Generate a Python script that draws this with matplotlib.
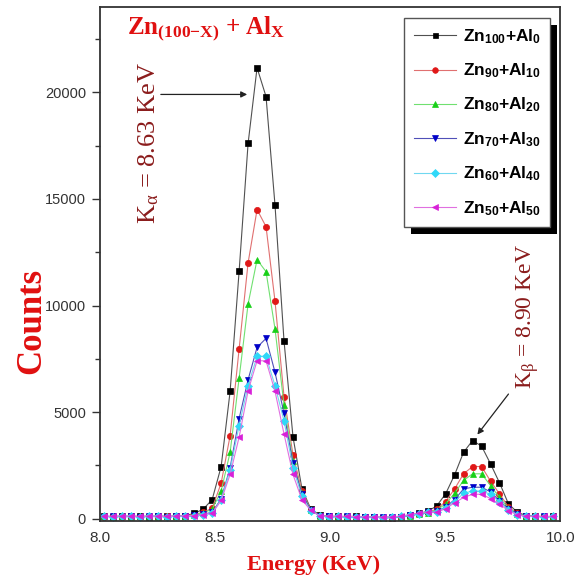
import numpy as np
import matplotlib
matplotlib.use("Agg")
import matplotlib.pyplot as plt
from matplotlib.patches import Rectangle
from matplotlib.ticker import MultipleLocator
from matplotlib.transforms import IdentityTransform

plt.rcParams["font.family"] = ["Liberation Sans", "DejaVu Sans"]
plt.rcParams["mathtext.fontset"] = "custom"
plt.rcParams["mathtext.rm"] = "Liberation Serif"
plt.rcParams["mathtext.it"] = "Liberation Serif:italic"
plt.rcParams["mathtext.bf"] = "Liberation Serif:bold"
plt.rcParams["mathtext.sf"] = "Liberation Sans:bold"

# energy channels (KeV)
energy = [8.020, 8.059, 8.098, 8.137, 8.176, 8.215, 8.254, 8.293, 8.332, 8.371,
          8.410, 8.449, 8.488, 8.527, 8.566, 8.605, 8.644, 8.683, 8.722, 8.761,
          8.800, 8.839, 8.878, 8.917, 8.956, 8.995, 9.034, 9.073, 9.112, 9.151,
          9.190, 9.229, 9.268, 9.307, 9.346, 9.385, 9.424, 9.463, 9.502, 9.541,
          9.580, 9.619, 9.658, 9.697, 9.736, 9.775, 9.814, 9.853, 9.892, 9.931,
          9.970]

zn100 = [120, 100, 130, 110, 120, 100, 130, 110, 120, 150,
         250, 450, 900, 2450, 5980, 11600, 17600, 21150, 19800, 14700,
         8350, 3850, 1400, 450, 180, 120, 110, 100, 120, 90,
         80, 60, 50, 100, 180, 250, 350, 600, 1170, 2060,
         3120, 3670, 3410, 2580, 1690, 700, 300, 150, 120, 100,
         110]
zn90 = [100, 110, 90, 120, 100, 110, 100, 120, 110, 130,
        200, 300, 500, 1670, 3900, 7960, 12000, 14500, 13700, 10200,
        5730, 3000, 1300, 400, 150, 100, 100, 90, 100, 80,
        70, 60, 60, 90, 160, 220, 300, 450, 810, 1400,
        2110, 2450, 2450, 1770, 1170, 550, 250, 130, 110, 100,
        100]
zn80 = [110, 100, 120, 100, 110, 120, 100, 110, 120, 120,
        180, 280, 450, 1300, 3120, 6590, 10070, 12150, 11590, 8900,
        5350, 2700, 1200, 400, 150, 110, 100, 100, 90, 80,
        70, 60, 80, 90, 150, 220, 290, 400, 700, 1200,
        1800, 2110, 2110, 1560, 1000, 500, 230, 130, 110, 100,
        100]
zn70 = [100, 120, 100, 110, 100, 120, 110, 100, 120, 110,
        160, 220, 300, 940, 2400, 4700, 6520, 8040, 8460, 6870,
        4950, 2610, 1170, 400, 150, 110, 100, 110, 90, 80,
        70, 70, 80, 100, 160, 230, 300, 350, 550, 900,
        1400, 1480, 1480, 1260, 850, 450, 220, 130, 100, 110,
        100]
zn60 = [110, 100, 120, 110, 100, 110, 120, 100, 110, 120,
        150, 200, 260, 900, 2300, 4370, 6240, 7620, 7620, 6240,
        4600, 2400, 1050, 350, 150, 100, 110, 100, 90, 70,
        80, 60, 90, 110, 170, 240, 310, 330, 500, 800,
        1200, 1300, 1300, 1150, 800, 420, 200, 120, 110, 100,
        110]
zn50 = [120, 110, 130, 120, 110, 130, 120, 110, 130, 140,
        150, 190, 250, 860, 2080, 3830, 6000, 7410, 7410, 5980,
        3980, 2080, 890, 390, 130, 120, 110, 120, 100, 90,
        80, 70, 90, 120, 200, 260, 300, 300, 480, 750,
        1000, 1150, 1150, 950, 700, 380, 180, 120, 110, 120,
        110]

labels = [r"Zn$_{\mathsf{100}}$+Al$_{\mathsf{0}}$",
          r"Zn$_{\mathsf{90}}$+Al$_{\mathsf{10}}$",
          r"Zn$_{\mathsf{80}}$+Al$_{\mathsf{20}}$",
          r"Zn$_{\mathsf{70}}$+Al$_{\mathsf{30}}$",
          r"Zn$_{\mathsf{60}}$+Al$_{\mathsf{40}}$",
          r"Zn$_{\mathsf{50}}$+Al$_{\mathsf{50}}$"]

series = [zn100, zn90, zn80, zn70, zn60, zn50]
markers = ["s", "o", "^", "v", "D", "<"]
mcolors = ["#000000", "#e01818", "#18d018", "#0000c8", "#30d8f8", "#d820d8"]
lcolors = ["#505050", "#e07070", "#70e070", "#5050b8", "#70d8f0", "#e070e0"]
msizes = [4, 4.5, 5, 5, 4, 5]

fig = plt.figure(figsize=(5.77, 5.84), dpi=100)
ax = fig.add_axes([0.173, 0.108, 0.798, 0.880])

for vals, mk, mc, lc, ms, lab in zip(series, markers, mcolors, lcolors, msizes, labels):
    ax.plot(energy, vals, color=lc, lw=0.8, marker=mk, markersize=ms,
            markerfacecolor=mc, markeredgecolor=mc, markeredgewidth=0.5, label=lab)

ax.set_xlim(8.0, 10.0)
ax.set_ylim(-100, 24000)
ax.set_xticks([8.0, 8.5, 9.0, 9.5, 10.0])
ax.set_xticklabels(["8.0", "8.5", "9.0", "9.5", "10.0"])
ax.set_yticks([0, 5000, 10000, 15000, 20000])
ax.yaxis.set_minor_locator(MultipleLocator(2500))
ax.tick_params(axis="y", which="major", direction="out", length=6, width=1,
               labelsize=10.5, labelcolor="#333333", colors="#333333", pad=4)
ax.tick_params(axis="y", which="minor", direction="out", length=3.5, width=1, colors="#333333")
ax.tick_params(axis="x", which="both", length=0, labelsize=11, labelcolor="#333333", pad=7)
for sp in ax.spines.values():
    sp.set_linewidth(1.3)
    sp.set_color("#333333")

ax.set_xlabel("Energy (KeV)", family="Liberation Serif", fontweight="bold",
              fontsize=16, color="#e01010")
ax.xaxis.set_label_coords(0.465, -0.066)
ax.set_ylabel("Counts", family="Liberation Serif", fontweight="bold",
              fontsize=25, color="#e01010")
ax.yaxis.set_label_coords(-0.112, 0.39)

ax.text(8.12, 23000, r"Zn$_{\mathbf{(100{-}X)}}$ + Al$_{\mathbf{X}}$",
        family="Liberation Serif", fontweight="bold", fontsize=18,
        color="#e01010", va="center", ha="left")

dark_red = "#8b1c1c"
ax.text(8.213, 17600, r"K$_{\mathrm{\alpha}}$ = 8.63 KeV", rotation=90,
        family="Liberation Serif", fontsize=19, color=dark_red,
        ha="center", va="center")
ax.annotate("", xy=(8.64, 19900), xytext=(8.265, 19900),
            arrowprops=dict(arrowstyle="-|>", color="#222222", lw=0.9,
                            mutation_scale=9, shrinkA=0, shrinkB=0))
ax.text(9.86, 9500, r"K$_{\mathrm{\beta}}$ = 8.90 KeV", rotation=90,
        family="Liberation Serif", fontsize=17, color=dark_red,
        ha="center", va="center")
ax.annotate("", xy=(9.64, 3950), xytext=(9.775, 5850),
            arrowprops=dict(arrowstyle="-|>", color="#222222", lw=0.9,
                            mutation_scale=9, shrinkA=0, shrinkB=0))

leg = ax.legend(loc="upper right", bbox_to_anchor=(0.978, 0.979), borderaxespad=0,
                prop={"family": "Liberation Sans", "weight": "bold", "size": 12.5},
                frameon=True, fancybox=False, edgecolor="#555555", facecolor="white",
                framealpha=1, handlelength=2.4, labelspacing=0.92, handletextpad=0.4,
                borderpad=0.55, markerscale=0.9)
leg.get_frame().set_linewidth(1.0)
leg.set_zorder(6)

# solid black drop shadow behind the legend box
fig.canvas.draw()
bb = leg.get_window_extent()
ax.add_patch(Rectangle((bb.x0 + 7, bb.y0 - 7), bb.width, bb.height,
                       transform=IdentityTransform(), facecolor="black",
                       edgecolor="none", zorder=5.9, clip_on=False))

fig.savefig("out.png", dpi=100)
